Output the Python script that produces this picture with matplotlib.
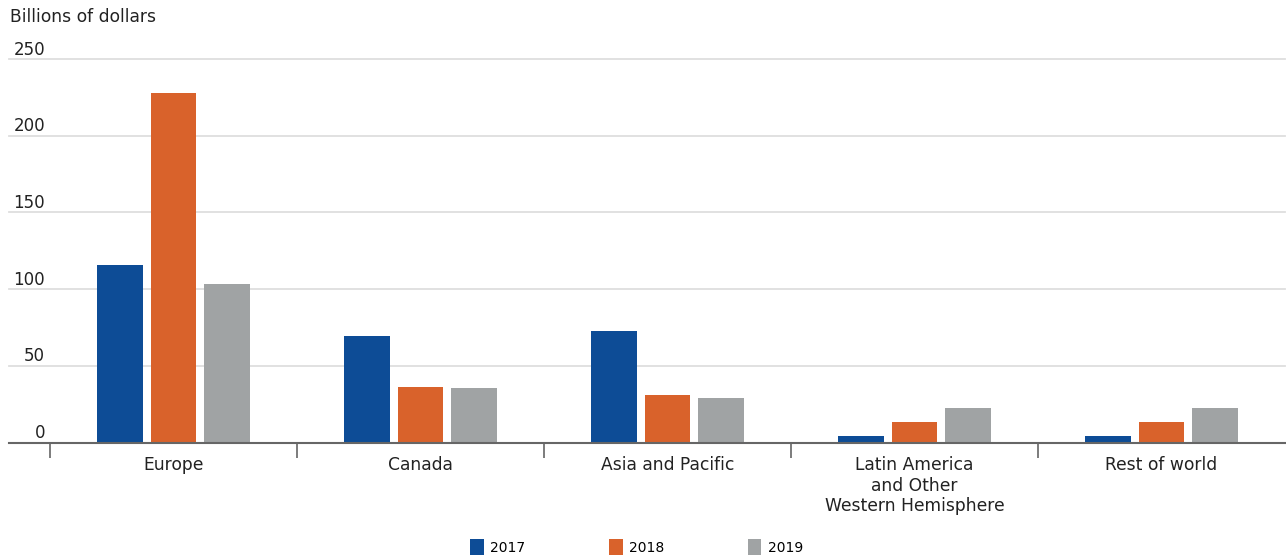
import matplotlib
matplotlib.use("Agg")
import matplotlib.pyplot as plt
import numpy as np
from matplotlib.transforms import blended_transform_factory
from matplotlib.patches import Patch

categories = ["Europe", "Canada", "Asia and Pacific", "Latin America\nand Other\nWestern Hemisphere", "Rest of world"]
years = ["2017", "2018", "2019"]
v2017 = [115.5, 69.3, 72.7, 4.5, 4.4]
v2018 = [228, 36.3, 30.8, 13.4, 13.4]
v2019 = [103.6, 35.6, 29.0, 22.3, 22.3]
yticks = [0, 50, 100, 150, 200, 250]
colors = ["#0d4c96", "#d9622b", "#a0a3a4"]

plt.rcParams['font.family'] = ['DejaVu Sans']
fig = plt.figure(figsize=(12.86, 5.59), dpi=100)
ax = fig.add_axes([9/1286, (559-442.7)/559, 1276/1286, (442.7-59)/559])

x = np.arange(len(categories))
w = 0.184
pitch = 0.2166
for i, (vals, c) in enumerate(zip([v2017, v2018, v2019], colors)):
    ax.bar(x + (i - 1) * pitch, vals, width=w, color=c, zorder=3, label=years[i])

ax.set_xlim(-0.666, 4.5)
ax.set_ylim(0, 250)
for s in ['top', 'right', 'left']:
    ax.spines[s].set_visible(False)
ax.spines['bottom'].set_color('#666666')
ax.spines['bottom'].set_linewidth(1.5)
ax.spines['bottom'].set_zorder(4)

for t in yticks[1:]:
    ax.axhline(t, color='#dedede', linewidth=1.3, zorder=1, clip_on=False)

ax.set_yticks([])
trans = blended_transform_factory(ax.transAxes, ax.transData)
for t in yticks:
    ax.text(36/1276, t + 0.3, str(t), transform=trans, ha='right', va='bottom',
            fontsize=12, color='#222222')

# boundary ticks (between groups)
ax.set_xticks(np.arange(len(categories)) - 0.5)
ax.set_xticklabels([])
ax.tick_params(axis='x', length=11, width=1.2, color='#666666', direction='out')
ax.tick_params(axis='y', length=0)
for xi, c in zip(x, categories):
    ax.text(xi, -8.5, c, ha='center', va='top', fontsize=12.3, color='#222222',
            linespacing=1.2)

fig.text(10/1286, 1 - 17/559, "Billions of dollars", ha='left', va='center',
         fontsize=12.3, color='#222222')

handles = [Patch(facecolor=c, edgecolor='none') for c in colors]
fig.legend(handles, years, loc='center', bbox_to_anchor=(0.495, 12/559), ncol=3,
           frameon=False, fontsize=10, handlelength=1.0, handleheight=1.4,
           handletextpad=0.45, columnspacing=6.0)

fig.savefig("out.png", dpi=100)
